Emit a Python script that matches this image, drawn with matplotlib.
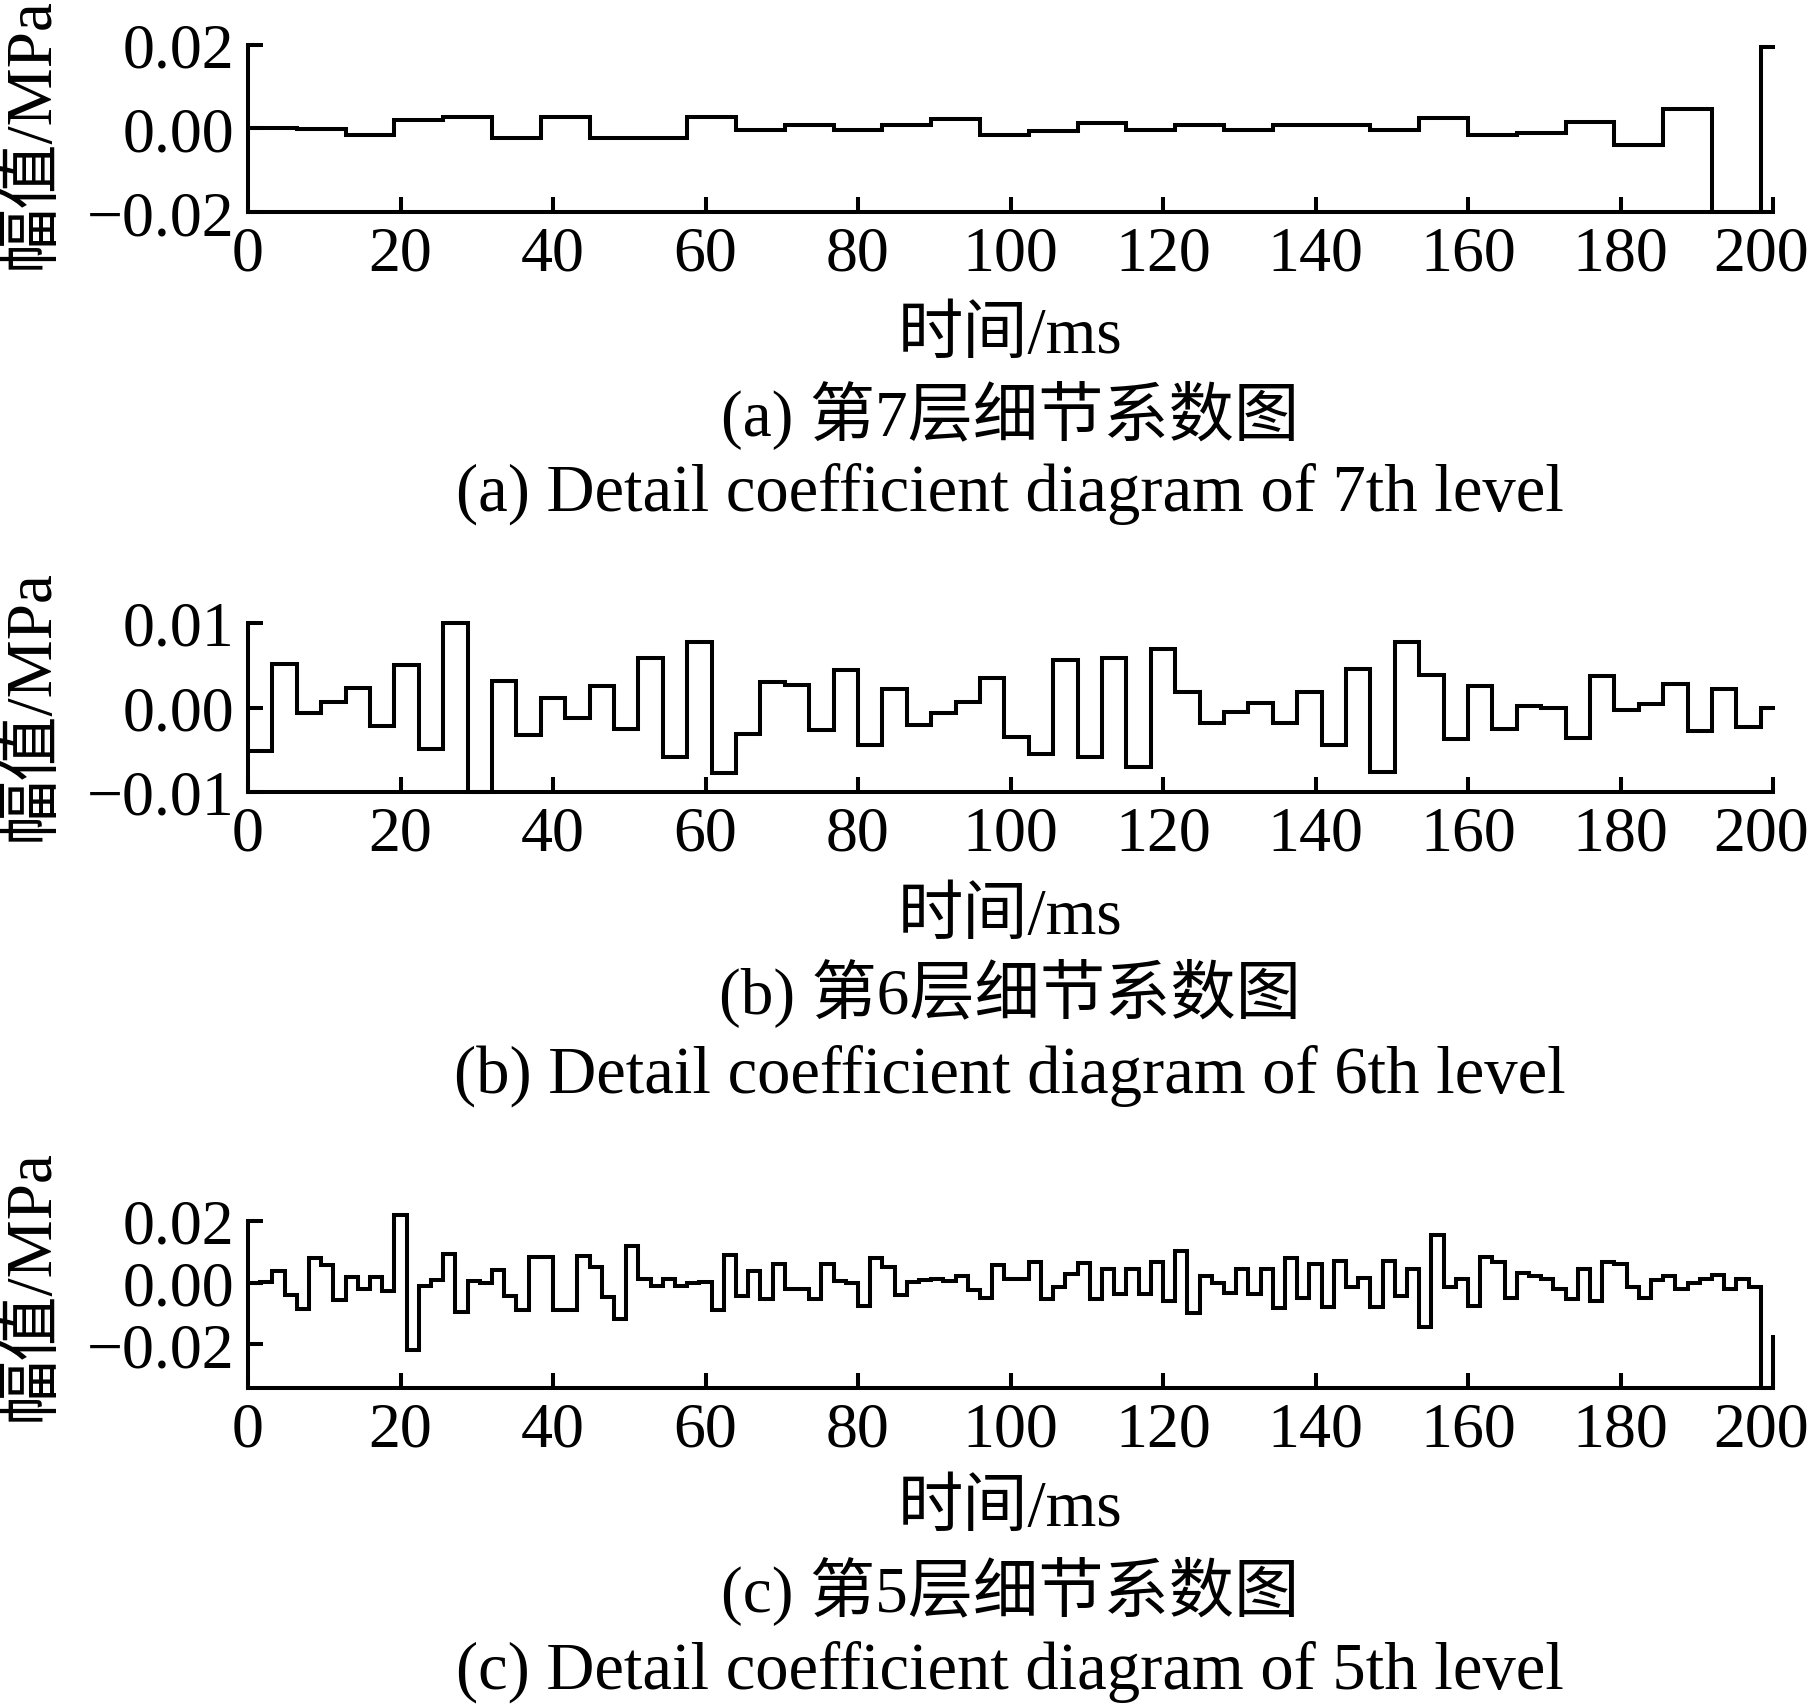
import matplotlib.pyplot as plt
import matplotlib.transforms as mtransforms
import numpy as np

plt.rcParams['font.family'] = ['Liberation Serif', 'Noto Sans CJK SC']
plt.rcParams['axes.unicode_minus'] = True

# detail coefficients (MPa); one value per step, last value sits at t = 200 ms
d7 = [0.0002, -0.0002, -0.0017, 0.0021, 0.0028, -0.0024, 0.0027, -0.0022, -0.0022, 0.0027,
      -0.0005, 0.0009, -0.0004, 0.0009, 0.0022, -0.0016, -0.0006, 0.0012, -0.0004, 0.0009,
      -0.0004, 0.0009, 0.0008, -0.0004, 0.0024, -0.0017, -0.0012, 0.0014, -0.0040, 0.0046,
      -0.0200, 0.0194, 0.0194]

d6 = [-0.0051, 0.0052, -0.0007, 0.0007, 0.0023, -0.0022, 0.0050, -0.0049, 0.0100, -0.0100,
      0.0031, -0.0032, 0.0011, -0.0012, 0.0025, -0.0025, 0.0058, -0.0059, 0.0077, -0.0078,
      -0.0031, 0.0030, 0.0027, -0.0027, 0.0044, -0.0044, 0.0022, -0.0021, -0.0006, 0.0006,
      0.0035, -0.0035, -0.0055, 0.0056, -0.0058, 0.0058, -0.0070, 0.0069, 0.0018, -0.0018,
      -0.0005, 0.0005, -0.0018, 0.0018, -0.0044, 0.0046, -0.0076, 0.0077, 0.0038, -0.0037,
      0.0025, -0.0025, 0.0002, 0.0000, -0.0036, 0.0037, -0.0003, 0.0004, 0.0028, -0.0028,
      0.0022, -0.0023, 0.0000, 0.0000]

d5 = [0.0000, 0.0003, 0.0036, -0.0039, -0.0086, 0.0081, 0.0056, -0.0056, 0.0019, -0.0022,
      0.0019, -0.0026, 0.0219, -0.0219, -0.0011, 0.0008, 0.0092, -0.0097, 0.0006, -0.0003,
      0.0041, -0.0044, -0.0089, 0.0083, 0.0083, -0.0089, -0.0090, 0.0086, 0.0050, -0.0048,
      -0.0119, 0.0119, 0.0011, -0.0011, 0.0011, -0.0011, -0.0003, 0.0003, -0.0089, 0.0089,
      -0.0044, 0.0039, -0.0052, 0.0060, -0.0022, -0.0022, -0.0053, 0.0060, 0.0005, -0.0002,
      -0.0075, 0.0079, 0.0050, -0.0042, 0.0002, 0.0008, 0.0013, 0.0005, 0.0020, -0.0024,
      -0.0049, 0.0057, 0.0011, 0.0011, 0.0066, -0.0055, -0.0013, 0.0027, 0.0064, -0.0055,
      0.0044, -0.0038, 0.0044, -0.0038, 0.0068, -0.0060, 0.0104, -0.0099, 0.0022, 0.0000,
      -0.0035, 0.0044, -0.0038, 0.0044, -0.0082, 0.0080, -0.0049, 0.0060, -0.0079, 0.0071,
      -0.0013, 0.0016, -0.0079, 0.0071, -0.0044, 0.0044, -0.0145, 0.0154, -0.0013, 0.0013,
      -0.0075, 0.0082, 0.0066, -0.0049, 0.0031, 0.0020, 0.0011, -0.0022, -0.0055, 0.0044,
      -0.0060, 0.0068, 0.0060, -0.0013, -0.0049, 0.0009, 0.0020, -0.0022, -0.0002, 0.0013,
      0.0024, -0.0020, 0.0013, -0.0016, -0.0343, -0.0176]

# step widths in ms for levels 7, 6, 5
dt7, dt6, dt5 = 6.4, 3.2, 1.6

xticks = [0, 20, 40, 60, 80, 100, 120, 140, 160, 180, 200]
yticks_a = [-0.02, 0.0, 0.02]
ylabels_a = ['\u22120.02', '0.00', '0.02']
yticks_b = [-0.01, 0.0, 0.01]
ylabels_b = ['\u22120.01', '0.00', '0.01']
yticks_c = [-0.02, 0.0, 0.02]
ylabels_c = ['\u22120.02', '0.00', '0.02']

ylims = [(-0.02, 0.02), (-0.01, 0.01), (-0.0343, 0.02)]

cap_cn = ['(a) 第7层细节系数图', '(b) 第6层细节系数图', '(c) 第5层细节系数图']
cap_en = ['(a) Detail coefficient diagram of 7th level',
          '(b) Detail coefficient diagram of 6th level',
          '(c) Detail coefficient diagram of 5th level']

W, H = 1811, 1708
fig = plt.figure(figsize=(W / 100, H / 100), dpi=100)

fs = 47
tfs = 46
left, right = 248, 1773
boxes = [(45.7, 213), (624, 793), (1222, 1389)]   # top, bottom in px
txt_y = [(337, 416, 494), (918, 993, 1076), (1510, 1592, 1672)]
ylab_y = [133, 705, 1285]

series = [(d7, dt7, yticks_a, ylabels_a), (d6, dt6, yticks_b, ylabels_b), (d5, dt5, yticks_c, ylabels_c)]

for i, (d, dt, yt, yl) in enumerate(series):
    top, bot = boxes[i]
    ax = fig.add_axes([left / W, 1 - bot / H, (right - left) / W, (bot - top) / H])
    n = len(d) - 1
    t = np.append(np.arange(n) * dt, 200)
    ax.step(t, d, where='post', color='k', lw=2.9, clip_on=False, solid_joinstyle='miter')
    ax.set_xlim(0, 200)
    ax.set_ylim(*ylims[i])
    ax.set_xticks(xticks)
    ax.set_xticklabels([str(v) for v in xticks], fontsize=tfs)
    ax.set_yticks(yt)
    ax.set_yticklabels(yl, fontsize=tfs)
    for s in ['top', 'right']:
        ax.spines[s].set_visible(False)
    for s in ['left', 'bottom']:
        ax.spines[s].set_linewidth(2.9)
    ax.tick_params(direction='in', length=11, width=2.9, pad=10)
    ax.patch.set_alpha(0)
    # last label pulled in a little so it stays inside the figure
    last = ax.get_xticklabels()[-1]
    last.set_transform(last.get_transform() + mtransforms.ScaledTranslation(-12 / 100, 0, fig.dpi_scale_trans))

    xl, c1, c2 = txt_y[i]
    cx = 1010 / W
    fig.text(cx, 1 - xl / H, '时间/ms', ha='center', va='center', fontsize=fs)
    fig.text(cx, 1 - c1 / H, cap_cn[i], ha='center', va='center', fontsize=fs)
    fig.text(cx, 1 - c2 / H, cap_en[i], ha='center', va='center', fontsize=48)
    fig.text(32 / W, 1 - ylab_y[i] / H, '幅值/MPa', ha='center', va='center',
             rotation=90, fontsize=fs)

fig.savefig('out.png', dpi=100)
